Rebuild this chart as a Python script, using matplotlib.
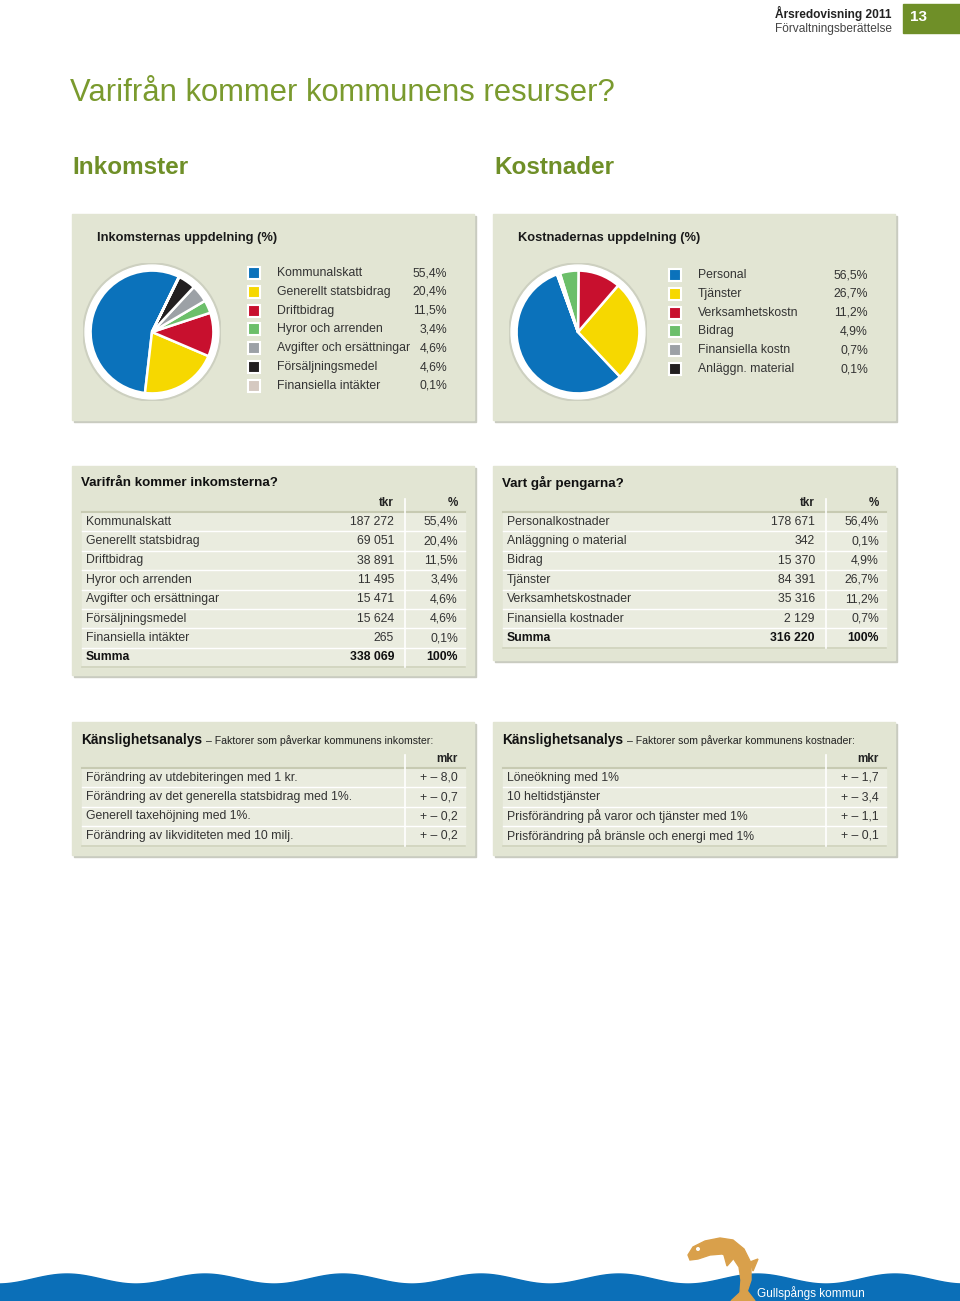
import numpy as np
import matplotlib
matplotlib.use("Agg")
import matplotlib.pyplot as plt
from matplotlib.patches import Rectangle, Circle, Polygon
from matplotlib import font_manager as fm

# Données
inkomst_kategorier = ["Kommunalskatt", "Generellt statsbidrag", "Driftbidrag", "Hyror och arrenden",
                      "Avgifter och ersättningar", "Försäljningsmedel", "Finansiella intäkter"]
inkomst_andel = [55.4, 20.4, 11.5, 3.4, 4.6, 4.6, 0.1]
inkomst_farger = ["#0b72bb", "#f6d800", "#c8102e", "#6cbf6a", "#9ca1a6", "#221f20", "#d5c9c1"]

kostnad_kategorier = ["Personal", "Tjänster", "Verksamhetskostn", "Bidrag", "Finansiella kostn", "Anläggn. material"]
kostnad_andel = [56.5, 26.7, 11.2, 4.9, 0.7, 0.1]
kostnad_farger = ["#0b72bb", "#f6d800", "#c8102e", "#6cbf6a", "#9ca1a6", "#221f20"]

inkomst_rader = ["Kommunalskatt", "Generellt statsbidrag", "Driftbidrag", "Hyror och arrenden",
                 "Avgifter och ersättningar", "Försäljningsmedel", "Finansiella intäkter"]
inkomst_tkr = [187272, 69051, 38891, 11495, 15471, 15624, 265]
inkomst_pct = [55.4, 20.4, 11.5, 3.4, 4.6, 4.6, 0.1]
inkomst_summa = 338069

kostnad_rader = ["Personalkostnader", "Anläggning o material", "Bidrag", "Tjänster",
                 "Verksamhetskostnader", "Finansiella kostnader"]
kostnad_tkr = [178671, 342, 15370, 84391, 35316, 2129]
kostnad_pct = [56.4, 0.1, 4.9, 26.7, 11.2, 0.7]
kostnad_summa = 316220

kansl_ink_rader = ["Förändring av utdebiteringen med 1 kr.", "Förändring av det generella statsbidrag med 1%.",
                   "Generell taxehöjning med 1%.", "Förändring av likviditeten med 10 milj."]
kansl_ink_mkr = [8.0, 0.7, 0.2, 0.2]
kansl_kost_rader = ["Löneökning med 1%", "10 heltidstjänster", "Prisförändring på varor och tjänster med 1%",
                    "Prisförändring på bränsle och energi med 1%"]
kansl_kost_mkr = [1.7, 3.4, 1.1, 0.1]

GRON = "#6f8f28"
PANEL = "#e2e5d3"
RAD = "#eaecdf"
BRED = ["Liberation Sans", "DejaVu Sans"]

# Police étroite si elle existe, sinon Liberation Sans un peu plus petite
if any(f.name == "Liberation Sans Narrow" for f in fm.fontManager.ttflist):
    SMAL, K = ["Liberation Sans Narrow", "DejaVu Sans"], 1.08
else:
    SMAL, K = BRED, 0.88

def sv_tal(v):
    return f"{v:,}".replace(",", " ")

def sv_pct(v):
    return f"{v:.1f}".replace(".", ",") + "%"

W, H = 960, 1301
fig = plt.figure(figsize=(W / 100, H / 100), dpi=100)
ax = fig.add_axes([0, 0, 1, 1])
ax.set_xlim(0, W)
ax.set_ylim(H, 0)
ax.axis("off")

def txt(x, y, s, size, bold=False, **kw):
    kw.setdefault("color", "#333")
    return ax.text(x, y, s, family=SMAL, fontsize=size * K, weight="bold" if bold else "normal",
                   va="center", zorder=5, **kw)

def panel(x0, y0, x1, y1):
    ax.add_patch(Rectangle((x0 + 2, y0 + 2), x1 - x0, y1 - y0, color="#c9cbc0", zorder=1))
    ax.add_patch(Rectangle((x0, y0), x1 - x0, y1 - y0, color=PANEL, zorder=2))

# En-tête
ax.text(775, 13, "Årsredovisning 2011", family=BRED, weight="bold", fontsize=8.6, va="center", color="#222")
ax.text(775, 29, "Förvaltningsberättelse", family=BRED, fontsize=8.6, va="center", color="#444")
ax.add_patch(Rectangle((903, 4), 57, 29, color=GRON, zorder=2))
ax.text(910, 17, "13", family=BRED, weight="bold", fontsize=11, color="white", va="center", zorder=3)

ax.text(70, 93, "Varifrån kommer kommunens resurser?", family=BRED, fontsize=22.3, color="#7a9a2e", va="center")
ax.text(72, 167, "Inkomster", family=BRED, weight="bold", fontsize=17.5, color=GRON, va="center")
ax.text(494, 167, "Kostnader", family=BRED, weight="bold", fontsize=17.5, color=GRON, va="center")

# Panneaux des camemberts
for px, titel, kat, andel, farger, cx, start, lx in [
        (72, "Inkomsternas uppdelning (%)", inkomst_kategorier, inkomst_andel, inkomst_farger, 152, 64, 254),
        (493, "Kostnadernas uppdelning (%)", kostnad_kategorier, kostnad_andel, kostnad_farger, 578, 110, 675)]:
    panel(px, 214, px + 402, 420)
    txt(px + 25, 238, titel, 10.5, bold=True, color="#1a1a1a")
    s = 138
    pax = fig.add_axes([(cx - s / 2) / W, 1 - (332 + s / 2) / H, s / W, s / H])
    pax.add_patch(Circle((0, 0), 1.0, color="#cdd0c0", zorder=0))
    pax.add_patch(Circle((0, 0), 0.97, color="white", zorder=1))
    wedges, _ = pax.pie(andel, colors=farger, startangle=start, radius=0.89,
                        wedgeprops=dict(edgecolor="white", linewidth=1.8))
    for w in wedges:
        w.set_zorder(2)
    pax.set_xlim(-1, 1)
    pax.set_ylim(-1, 1)
    pax.axis("off")
    y0 = 273 if px == 72 else 275
    for i, (k, a, f) in enumerate(zip(kat, andel, farger)):
        y = y0 + i * 18.8
        ax.add_patch(Rectangle((lx - 6, y - 6), 12, 12, facecolor=f, edgecolor="white", linewidth=1.5, zorder=3))
        txt(lx + 23, y, k, 10)
        txt(lx + 193, y, sv_pct(a), 10, ha="right")

# Tableaux
def tabell(px, py, bottom, titel, rader, kol1, kol2, summa_rad, rubriker):
    panel(px, py, px + 402, bottom)
    n = len(rader) + (1 if summa_rad else 0)
    top = py + 46
    step = 19.4
    tx0, tx1 = px + 10, px + 393
    ax.add_patch(Rectangle((tx0, top), tx1 - tx0, n * step, color=RAD, zorder=2))
    ax.plot([tx0, tx1], [top, top], color="#c7cab2", lw=1.5, zorder=3)
    for i in range(1, n):
        ax.plot([tx0, tx1], [top + i * step, top + i * step], color="white", lw=1, zorder=3)
    ax.plot([tx0, tx1], [top + n * step, top + n * step], color="#cfd2bc", lw=1.2, zorder=3)
    vx = px + 333
    ax.plot([vx, vx], [top - 13, top + n * step], color="white", lw=1.2, zorder=4)
    for i, (r, a, b) in enumerate(zip(rader, kol1, kol2)):
        y = top + (i + 0.5) * step
        txt(px + 14, y, r, 10)
        if a is not None:
            txt(px + 322, y, a, 10, ha="right")
        txt(px + 386, y, b, 10, ha="right")
    if summa_rad:
        y = top + (n - 0.5) * step
        txt(px + 14, y, summa_rad[0], 10, bold=True, color="#111")
        txt(px + 322, y, summa_rad[1], 10, bold=True, color="#111", ha="right")
        txt(px + 386, y, summa_rad[2], 10, bold=True, color="#111", ha="right")
    hy = top - 9
    if rubriker[0]:
        txt(px + 322, hy, rubriker[0], 9.5, bold=True, color="#222", ha="right")
    txt(px + 386, hy, rubriker[1], 9.5, bold=True, color="#222", ha="right")
    if isinstance(titel, str):
        txt(px + 9, py + 17, titel, 11, bold=True, color="#111")
    else:
        t = txt(px + 9, py + 18, titel[0], 11.3, bold=True, color="#111")
        fig.canvas.draw()
        bb = t.get_window_extent().transformed(ax.transData.inverted())
        txt(bb.x1 + 4, py + 19, titel[1], 8.6, color="#222")

tabell(72, 466, 675, "Varifrån kommer inkomsterna?", inkomst_rader,
       [sv_tal(v) for v in inkomst_tkr], [sv_pct(v) for v in inkomst_pct],
       ("Summa", sv_tal(inkomst_summa), "100%"), ("tkr", "%"))
tabell(493, 466, 660, "Vart går pengarna?", kostnad_rader,
       [sv_tal(v) for v in kostnad_tkr], [sv_pct(v) for v in kostnad_pct],
       ("Summa", sv_tal(kostnad_summa), "100%"), ("tkr", "%"))
tabell(72, 722, 855, ("Känslighetsanalys", "– Faktorer som påverkar kommunens inkomster:"), kansl_ink_rader,
       [None] * 4, ["+ – " + f"{v:.1f}".replace(".", ",") for v in kansl_ink_mkr], None, (None, "mkr"))
tabell(493, 722, 855, ("Känslighetsanalys", "– Faktorer som påverkar kommunens kostnader:"), kansl_kost_rader,
       [None] * 4, ["+ – " + f"{v:.1f}".replace(".", ",") for v in kansl_kost_mkr], None, (None, "mkr"))

# Pied de page : vague et logo (saumon)
xv = np.linspace(0, W, 400)
yv = 1279 - 5 * np.cos(2 * np.pi * (xv - 67) / 138)
ax.fill_between(xv, yv, H, color="#0b6fb8", zorder=2)
FISK = "#d9a04b"
kropp = [[688, 1255], [693, 1247], [705, 1241], [720, 1238], [733, 1240], [744, 1249], [751, 1263],
         [751, 1280], [747, 1292], [740, 1293], [741, 1280], [739, 1267], [733, 1258], [722, 1254],
         [710, 1255], [698, 1259], [690, 1260]]
ax.add_patch(Polygon(kropp, closed=True, color=FISK, zorder=3))
ax.add_patch(Polygon([[745, 1288], [731, 1301], [755, 1301]], color=FISK, zorder=3))
ax.add_patch(Polygon([[750, 1262], [758, 1259], [753, 1271]], color=FISK, zorder=3))
ax.add_patch(Polygon([[724, 1255], [727, 1266], [733, 1259]], color=FISK, zorder=3))
ax.add_patch(Circle((698, 1249), 1.3, color="white", zorder=4))
ax.text(757, 1293, "Gullspångs kommun", family=BRED, fontsize=8.5, color="white", va="center", zorder=4)

fig.savefig("out.png", dpi=100, facecolor="white")
